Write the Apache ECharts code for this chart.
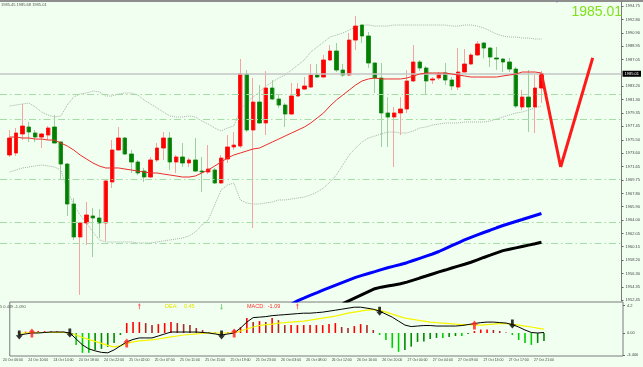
<!DOCTYPE html>
<html><head><meta charset="utf-8">
<script src="https://cdn.jsdelivr.net/npm/echarts@6/dist/echarts.min.js"></script>
<style>html,body{margin:0;padding:0;background:#f0fff0;}#c{width:643px;height:367px;}</style>
</head><body><div id="c"></div>
<script>
// ---------- categories (hourly bars, one leading slot, future slots on the right) ----------
const categories = ['24 Oct 06:00','24 Oct 07:00','24 Oct 08:00','24 Oct 09:00','24 Oct 10:00','24 Oct 11:00','24 Oct 12:00','24 Oct 13:00','24 Oct 14:00','24 Oct 15:00','24 Oct 16:00','24 Oct 17:00','24 Oct 18:00','24 Oct 19:00','24 Oct 20:00','24 Oct 21:00','24 Oct 22:00','24 Oct 23:00',
'25 Oct 00:00','25 Oct 01:00','25 Oct 02:00','25 Oct 03:00','25 Oct 05:00','25 Oct 06:00','25 Oct 07:00','25 Oct 08:00','25 Oct 09:00','25 Oct 10:00','25 Oct 11:00','25 Oct 12:00','25 Oct 13:00','25 Oct 14:00','25 Oct 15:00','25 Oct 16:00','25 Oct 17:00','25 Oct 18:00','25 Oct 19:00','25 Oct 20:00','25 Oct 21:00','25 Oct 22:00','25 Oct 23:00',
'26 Oct 00:00','26 Oct 01:00','26 Oct 02:00','26 Oct 03:00','26 Oct 05:00','26 Oct 06:00','26 Oct 07:00','26 Oct 08:00','26 Oct 09:00','26 Oct 10:00','26 Oct 11:00','26 Oct 12:00','26 Oct 13:00','26 Oct 14:00','26 Oct 15:00','26 Oct 16:00','26 Oct 17:00','26 Oct 18:00','26 Oct 19:00','26 Oct 20:00','26 Oct 21:00','26 Oct 22:00','26 Oct 23:00',
'27 Oct 00:00','27 Oct 01:00','27 Oct 02:00','27 Oct 03:00','27 Oct 04:00','27 Oct 06:00','27 Oct 07:00','27 Oct 08:00','27 Oct 09:00','27 Oct 10:00','27 Oct 11:00','27 Oct 12:00','27 Oct 13:00','27 Oct 14:00','27 Oct 15:00','27 Oct 16:00','27 Oct 17:00','27 Oct 18:00','27 Oct 19:00','27 Oct 20:00','27 Oct 21:00',
'27 Oct 22:00','27 Oct 23:00','28 Oct 00:00','28 Oct 01:00','28 Oct 02:00','28 Oct 03:00','28 Oct 04:00','28 Oct 06:00','28 Oct 07:00','28 Oct 08:00','28 Oct 09:00','28 Oct 10:00'];

// ---------- price bars (24 Oct 07:00 .. 27 Oct 21:00) ----------
const open = [1973.33,1973.61,1976.35,1977.35,1976.49,1975.91,1976.20,1977.35,1975.20,1972.03,
1966.28,1961.54,1963.55,1964.56,1964.27,1963.55,1969.45,1974.05,1975.77,1973.47,
1972.32,1971.02,1970.16,1972.61,1974.33,1975.77,1972.32,1973.04,1972.18,1972.61,
1971.02,1970.88,1971.17,1969.30,1972.75,1974.48,1974.62,1984.97,1976.92,1980.94,
1977.93,1982.96,1981.38,1980.51,1979.22,1981.81,1982.81,1983.10,1984.83,1984.54,
1986.99,1988.28,1985.55,1984.83,1989.86,1992.02,1990.44,1986.56,1984.40,1979.37,
1978.79,1979.37,1979.94,1983.97,1986.70,1985.84,1984.11,1984.40,1985.12,1984.11,
1983.10,1985.26,1986.41,1987.71,1989.43,1988.71,1987.27,1987.13,1986.70,1985.69,
1980.23,1981.66,1980.23,1982.96];
const close = [1975.77,1976.49,1977.49,1976.63,1975.91,1976.35,1977.21,1975.05,1972.03,1966.28,
1961.54,1963.55,1964.70,1964.27,1963.55,1969.59,1974.05,1975.77,1973.47,1972.32,
1970.74,1970.16,1972.61,1974.33,1975.77,1972.32,1973.04,1972.18,1972.61,1971.02,
1970.88,1971.31,1969.30,1972.89,1974.48,1974.76,1984.97,1976.92,1980.94,1977.93,
1982.96,1981.38,1980.51,1979.22,1981.81,1982.81,1983.25,1984.83,1984.54,1986.99,
1988.28,1985.55,1984.83,1989.86,1991.87,1990.44,1986.56,1984.40,1979.37,1978.79,
1979.37,1979.94,1983.97,1986.70,1985.84,1983.97,1984.26,1984.97,1984.11,1983.25,
1985.26,1986.41,1987.71,1989.29,1988.71,1987.42,1987.13,1986.70,1985.69,1980.37,
1981.66,1980.23,1982.96,1985.01];
const low = [1973.04,1973.18,1975.48,1975.20,1975.20,1974.33,1975.48,1975.05,1969.88,1964.56,
1961.11,1953.20,1960.39,1958.66,1961.39,1960.96,1968.58,1973.90,1973.33,1970.74,
1970.45,1969.45,1970.02,1972.32,1972.61,1971.17,1970.74,1971.60,1971.60,1970.88,
1968.01,1970.59,1969.16,1969.16,1972.18,1974.05,1974.33,1976.63,1962.83,1977.78,
1976.20,1981.23,1980.08,1977.35,1979.08,1981.66,1982.67,1982.96,1984.40,1984.40,
1986.84,1985.26,1984.54,1984.69,1988.42,1989.43,1985.84,1982.24,1974.48,1974.48,
1971.60,1976.20,1979.37,1983.82,1985.40,1981.95,1983.54,1984.11,1983.39,1982.67,
1982.67,1985.26,1986.27,1987.56,1987.27,1985.98,1985.55,1985.26,1985.26,1980.08,
1979.80,1976.63,1976.49,1980.80];
const high = [1976.92,1977.21,1980.66,1978.07,1976.92,1976.49,1977.49,1979.08,1975.34,1972.18,
1967.14,1963.69,1966.57,1965.71,1965.56,1969.88,1975.48,1977.35,1975.91,1974.05,
1972.61,1971.46,1973.04,1975.05,1976.63,1976.63,1973.33,1975.05,1972.89,1975.77,
1973.04,1974.76,1971.46,1973.33,1976.20,1976.63,1987.13,1985.55,1984.40,1983.39,
1985.40,1984.11,1981.95,1980.80,1983.68,1983.68,1984.54,1986.41,1986.41,1987.71,
1989.14,1989.43,1986.41,1990.87,1993.31,1992.02,1991.01,1986.56,1986.56,1981.66,
1980.23,1981.66,1985.55,1989.14,1986.99,1986.12,1984.54,1985.26,1986.56,1984.54,
1988.71,1988.57,1987.99,1989.72,1989.57,1988.86,1988.86,1987.27,1987.27,1985.98,
1982.67,1985.55,1984.83,1985.40];

// ---------- overlays ----------
const maLine = [1975.91,1975.91,1975.77,1975.77,1975.62,1975.62,1975.48,1975.48,1975.05,1974.62,
1974.05,1973.33,1972.75,1972.18,1971.74,1971.46,1971.46,1971.46,1971.31,1971.17,
1971.02,1970.88,1970.74,1970.74,1970.59,1970.45,1970.31,1970.16,1970.16,1970.31,
1970.74,1971.17,1971.74,1972.32,1972.89,1973.33,1973.61,1973.90,1974.19,1974.33,
1974.76,1975.20,1975.62,1976.06,1976.49,1976.92,1977.35,1977.93,1978.65,1979.37,
1980.37,1981.23,1981.95,1982.67,1983.39,1983.97,1984.26,1984.40,1984.26,1984.26,
1984.26,1984.26,1984.40,1984.69,1984.97,1985.12,1985.12,1985.12,1985.12,1984.97,
1984.83,1984.69,1984.54,1984.54,1984.54,1984.54,1984.54,1984.69,1984.83,1984.97,
1985.26,1985.26,1985.26,1985.12];
const bandUpper = [1980.37,1980.52,1980.66,1980.80,1980.23,1979.51,1979.08,1978.79,1978.94,1980.52,
1981.67,1982.10,1982.24,1982.53,1982.39,1981.81,1981.81,1982.10,1982.24,1982.24,
1981.95,1981.23,1980.66,1980.09,1979.51,1978.94,1978.79,1978.79,1978.94,1978.79,
1978.22,1977.78,1977.21,1976.78,1977.21,1977.50,1979.80,1980.95,1981.67,1982.39,
1983.25,1983.82,1984.40,1984.83,1985.55,1986.27,1986.99,1988.14,1988.86,1989.57,
1990.29,1990.58,1990.87,1991.30,1991.73,1992.02,1992.02,1991.87,1991.87,1991.87,
1992.02,1992.02,1992.02,1992.02,1992.02,1992.02,1992.02,1992.02,1992.02,1991.87,
1991.87,1992.02,1992.02,1991.87,1991.59,1991.16,1990.72,1990.44,1990.29,1990.29,
1990.15,1990.15,1990.01,1990.01];
const bandLower = [1970.88,1971.17,1971.46,1971.60,1971.75,1971.89,1971.75,1971.60,1971.17,1968.29,
1966.14,1964.70,1963.55,1962.26,1961.11,1960.82,1960.82,1960.82,1960.82,1960.82,
1960.67,1960.67,1960.67,1960.82,1960.96,1961.11,1961.25,1961.39,1961.68,1962.26,
1963.26,1963.98,1966.14,1968.29,1969.01,1969.30,1966.86,1966.43,1966.28,1966.28,
1966.43,1966.57,1966.86,1966.86,1967.00,1967.14,1967.29,1967.58,1968.01,1968.58,
1969.45,1970.45,1971.89,1973.33,1974.33,1975.20,1975.77,1976.06,1976.35,1976.63,
1976.63,1976.49,1976.49,1976.78,1977.21,1977.35,1977.64,1977.78,1977.93,1977.93,
1977.93,1978.07,1978.07,1978.07,1978.07,1978.22,1978.50,1978.79,1979.08,1979.37,
1979.51,1979.80,1980.09,1980.37];
const blueStart = 43;
const blueLine = [1951.47,1951.90,1952.39,1952.77,1953.16,1953.53,1953.92,1954.29,1954.65,1955.01,
1955.37,1955.73,1956.02,1956.29,1956.56,1956.85,1957.12,1957.35,1957.57,1957.84,
1958.16,1958.47,1958.78,1959.09,1959.45,1959.87,1960.29,1960.70,1961.11,1961.49,
1961.84,1962.18,1962.51,1962.86,1963.19,1963.48,1963.77,1964.05,1964.34,1964.63,1964.92];
const blackStart = 52;
const blackLine = [1951.95,1952.38,1952.81,1953.24,1953.67,1954.10,1954.32,1954.48,1954.64,1954.80,
1955.04,1955.33,1955.63,1955.92,1956.22,1956.51,1956.78,1957.07,1957.34,1957.61,
1957.90,1958.24,1958.59,1958.92,1959.26,1959.57,1959.77,1959.97,1960.17,1960.37,
1960.57,1960.78];
const levelLines = [1982.10, 1978.50, 1969.88, 1963.69, 1960.67];
const currentPrice = 1985.01;
// projected path: [bar index, price]
const projection = [[83, 1985.01], [86, 1971.6], [91, 1987.3]];
const priceTicks = [1994.75,1992.80,1990.90,1988.95,1987.05,1983.20,1981.30,1979.35,1977.45,1975.50,1973.60,1971.65,1969.75,1967.80,1965.90,1964.00,1962.05,1960.15,1958.20,1956.30,1954.35,1952.45];

// ---------- MACD panel ----------
const macdHist = [0.10,0.20,0.25,0.30,0.30,0.25,0.25,0.20,-0.10,-1.83,
-3.05,-3.05,-2.60,-2.44,-2.14,-1.53,-0.30,1.53,1.68,1.68,
1.53,1.22,1.37,1.53,1.68,1.53,1.37,1.22,0.76,0.46,
0.15,0.10,-0.10,0.10,0.40,0.90,2.29,1.68,1.83,1.68,
2.29,1.98,1.22,1.22,1.22,1.22,1.22,1.22,1.22,1.37,
1.53,0.92,0.76,1.07,1.37,1.22,0.46,-0.30,-1.07,-2.29,
-2.90,-2.60,-2.10,-1.37,-1.30,-0.92,-0.76,-0.76,-0.61,-0.46,
-0.46,-0.15,0.30,0.53,0.53,0.46,0.30,0.08,-0.30,-1.07,
-1.53,-1.83,-1.53,-1.22];
const macdLine = [-0.31,-0.15,0,0,0.08,0.15,0.15,0.15,0,-0.92,
-1.83,-2.44,-2.75,-2.98,-3.05,-2.60,-1.98,-1.37,-0.99,-0.76,
-0.76,-0.76,-0.46,-0.15,0.15,0.15,0.15,0.15,0.15,0.08,
0,-0.15,-0.31,-0.15,0,0.76,1.68,2.37,2.44,2.52,
2.67,2.75,2.82,2.90,2.98,3.05,3.05,3.13,3.21,3.36,
3.51,3.66,3.82,3.97,3.97,3.82,3.66,3.36,2.90,2.44,
1.83,1.22,0.99,1.07,1.15,1.15,1.07,1.07,1.07,1.07,
1.15,1.30,1.45,1.60,1.68,1.68,1.60,1.53,1.30,0.92,
0.46,0.08,0,0.08];
const signalLine = [0,0,0.08,0.08,0.08,0.08,0.08,0.08,0,-0.31,
-0.69,-0.99,-1.30,-1.60,-1.91,-2.14,-1.98,-1.60,-1.37,-1.22,
-1.15,-1.07,-0.92,-0.76,-0.61,-0.46,-0.31,-0.23,-0.15,-0.08,
0,0,0,0,0,0.31,0.61,0.92,1.15,1.30,
1.37,1.53,1.60,1.68,1.76,1.83,1.98,2.14,2.29,2.44,
2.60,2.82,3.05,3.21,3.36,3.51,3.59,3.51,3.21,2.90,
2.60,2.29,2.14,1.98,1.83,1.68,1.60,1.53,1.45,1.37,
1.30,1.30,1.22,1.22,1.30,1.37,1.45,1.45,1.37,1.22,
1.07,0.92,0.76,0.61];
const crossUp = [[2, 0], [17, -1.53], [34, 0], [72, 1.22]];
const crossDown = [[0, -0.3], [8, 0], [32, -0.3], [57, 3.36], [78, 1.37]];
const signalUp = [[19, 4.1], [44, 4.1]];
const signalDown = [[32, 4.0]];
const macdTicks = [4.2, 0, -3.4];
const macdTickLabels = ['4.2', '0.00', '-3.400'];

// ---------- build ----------
const xj = i => i + 1;
const candles = open.map((o, i) => [xj(i), o, close[i], low[i], high[i]]);
const bodies = open.map((o, i) => [xj(i), o, close[i], Math.min(o, close[i]), Math.max(o, close[i])]);
const pts = (arr, start) => arr.map((v, k) => [xj((start || 0) + k), v]);
const pairs = arr => arr.map(p => [xj(p[0]), p[1]]);
const projSegs = [];
for (let k = 0; k < projection.length - 1; k++) {
  projSegs.push([{coord: [xj(projection[k][0]), projection[k][1]]}, {coord: [xj(projection[k + 1][0]), projection[k + 1][1]]}]);
}
const UP = 'path://M5 0 L10 5 L7 5 L7 11 L3 11 L3 5 L0 5 Z';
const DOWN = 'path://M3 0 L7 0 L7 6 L10 6 L5 11 L0 6 L3 6 Z';
const THIN_UP = 'path://M2 0 L4 3 L2.6 3 L2.6 8 L1.4 8 L1.4 3 L0 3 Z';
const THIN_DOWN = 'path://M1.4 0 L2.6 0 L2.6 5 L4 5 L2 8 L0 5 L1.4 5 Z';
const FONT = 'Liberation Sans';

const chart = echarts.init(document.getElementById('c'), null, {renderer: 'canvas', width: 643, height: 367});
chart.setOption({
  backgroundColor: '#f0fff0',
  animation: false,
  textStyle: {fontFamily: FONT},
  title: [
    {text: '1985.45 1985.68 1985.01', left: 1, top: 3, padding: 0, textStyle: {fontSize: 4, color: '#555', fontWeight: 'normal', fontFamily: FONT}},
    {text: '1985.01', right: 21, top: 5, padding: 0, textStyle: {fontSize: 14, color: '#7fe31c', fontWeight: 'normal', fontFamily: FONT}},
    {text: '\u25BC', left: 555, top: 0, padding: 0, textStyle: {fontSize: 4, color: '#7a86a8', fontWeight: 'normal'}},
    {text: '5 0.449 -1.090', left: 0, top: 305, padding: 0, textStyle: {fontSize: 4, color: '#555', fontWeight: 'normal', fontFamily: FONT}},
    {text: 'DEA:    0.45', left: 165, top: 303, padding: 0, textStyle: {fontSize: 5.5, color: '#e6e600', fontWeight: 'normal', fontFamily: FONT}},
    {text: 'MACD:  -1.09', left: 247, top: 303, padding: 0, textStyle: {fontSize: 5.5, color: '#ff3030', fontWeight: 'normal', fontFamily: FONT}}
  ],
  grid: [
    {left: -8, right: 20, top: 2, height: 299, show: false},
    {left: -8, right: 20, top: 302, height: 54, show: true, borderColor: '#7a7a7a', borderWidth: 1, backgroundColor: 'transparent'}
  ],
  graphic: [{type: 'rect', shape: {x: 0, y: 0, width: 643, height: 2}, style: {fill: '#8e8e8e'}, silent: true}],
  xAxis: [
    {type: 'category', data: categories, gridIndex: 0, boundaryGap: true, axisLine: {show: false}, axisTick: {show: false}, axisLabel: {show: false}, splitLine: {show: false}},
    {type: 'category', data: categories, gridIndex: 1, boundaryGap: true, axisLine: {show: false}, axisTick: {show: false}, splitLine: {show: false},
     axisLabel: {show: true, interval: (idx) => idx % 4 === 0 && idx <= 84, fontSize: 3.5, color: '#444', margin: 2, hideOverlap: false, fontFamily: FONT}}
  ],
  yAxis: [
    {type: 'value', gridIndex: 0, position: 'right', scale: true, min: 1952.33, max: 1995.33,
     axisLine: {show: true, lineStyle: {color: '#7a7a7a', width: 1}},
     axisTick: {show: true, customValues: priceTicks, length: 2, lineStyle: {color: '#666'}},
     axisLabel: {show: true, customValues: priceTicks, formatter: v => Number(v).toFixed(2), fontSize: 4, color: '#444', margin: 4, fontFamily: FONT},
     splitLine: {show: false}},
    {type: 'value', gridIndex: 1, position: 'right', min: -3.54, max: 4.77,
     axisLine: {show: false},
     axisTick: {show: true, customValues: macdTicks, length: 2, lineStyle: {color: '#666'}},
     axisLabel: {show: true, customValues: macdTicks, formatter: v => macdTickLabels[macdTicks.indexOf(Math.round(v * 10) / 10)] || '', fontSize: 4, color: '#444', margin: 4, fontFamily: FONT},
     splitLine: {show: false}}
  ],
  series: [
    {type: 'line', name: 'bandUpper', data: pts(bandUpper), showSymbol: false, z: 2,
     lineStyle: {color: '#a9b3a9', width: 1, type: 'dotted'},
     markLine: {silent: true, symbol: ['none', 'none'], label: {show: false}, animation: false,
       lineStyle: {color: '#a6dca6', width: 1, type: [7, 3, 1.5, 3]}, data: levelLines.map(v => ({yAxis: v}))}},
    {type: 'line', name: 'bandLower', data: pts(bandLower), showSymbol: false, z: 2,
     lineStyle: {color: '#a9b3a9', width: 1, type: 'dotted'},
     markLine: {silent: true, symbol: ['none', 'none'], animation: false,
       lineStyle: {color: '#c6c6c6', width: 1.5, type: 'solid'},
       label: {show: true, position: 'end', formatter: currentPrice.toFixed(2), backgroundColor: '#000', color: '#fff', fontSize: 4, padding: [1, 2], distance: 1, fontFamily: FONT},
       data: [{yAxis: currentPrice}]}},
    {type: 'candlestick', name: 'wicks', data: candles, encode: {x: 0, y: [1, 2, 3, 4]}, barWidth: 4.4, z: 3,
     itemStyle: {color: '#f5a3a3', color0: '#9fcf9f', borderColor: '#f5a3a3', borderColor0: '#9fcf9f', borderWidth: 1}},
    {type: 'candlestick', name: 'bodies', data: bodies, encode: {x: 0, y: [1, 2, 3, 4]}, barWidth: 3.8, z: 4,
     itemStyle: {color: '#ff0000', color0: '#007f00', borderColor: '#ff0000', borderColor0: '#007f00', borderWidth: 0.6}},
    {type: 'line', name: 'MA', data: pts(maLine), showSymbol: false, z: 5,
     lineStyle: {color: '#ee2b2b', width: 1},
     markLine: {silent: true, symbol: ['none', 'arrow'], symbolSize: [0, 9], label: {show: false}, animation: false,
       lineStyle: {color: '#ff1a1a', width: 3, type: 'solid'}, data: projSegs}},
    {type: 'line', name: 'blue', data: pts(blueLine, blueStart), showSymbol: false, z: 5,
     lineStyle: {color: '#0000ff', width: 3}},
    {type: 'line', name: 'black', data: pts(blackLine, blackStart), showSymbol: false, z: 5,
     lineStyle: {color: '#000000', width: 3}},
    {type: 'bar', name: 'hist', xAxisIndex: 1, yAxisIndex: 1, data: pts(macdHist), barWidth: 1.6,
     itemStyle: {color: p => {
       const i = p.dataIndex, v = macdHist[i], prev = i > 0 ? macdHist[i - 1] : 0;
       if (v >= 0) return v >= prev ? '#ff0000' : '#a52a2a';
       return v <= prev ? '#00d000' : '#008a00';
     }}},
    {type: 'line', name: 'macd', xAxisIndex: 1, yAxisIndex: 1, data: pts(macdLine), showSymbol: false, z: 5,
     lineStyle: {color: '#000', width: 1}},
    {type: 'line', name: 'signal', xAxisIndex: 1, yAxisIndex: 1, data: pts(signalLine), showSymbol: false, z: 4,
     lineStyle: {color: '#f5f500', width: 1.2}},
    {type: 'scatter', name: 'crossUp', xAxisIndex: 1, yAxisIndex: 1, data: pairs(crossUp), symbol: UP, symbolSize: [7, 9], z: 6,
     itemStyle: {color: '#ff2020'}},
    {type: 'scatter', name: 'crossDown', xAxisIndex: 1, yAxisIndex: 1, data: pairs(crossDown), symbol: DOWN, symbolSize: [7, 9], z: 6,
     itemStyle: {color: '#000'}},
    {type: 'scatter', name: 'sigUp', xAxisIndex: 1, yAxisIndex: 1, data: pairs(signalUp), symbol: THIN_UP, symbolSize: [3, 6], z: 6,
     itemStyle: {color: '#ff4040'}},
    {type: 'scatter', name: 'sigDown', xAxisIndex: 1, yAxisIndex: 1, data: pairs(signalDown), symbol: THIN_DOWN, symbolSize: [3, 6], z: 6,
     itemStyle: {color: '#5acb5a'}}
  ]
});
</script>
</body></html>
